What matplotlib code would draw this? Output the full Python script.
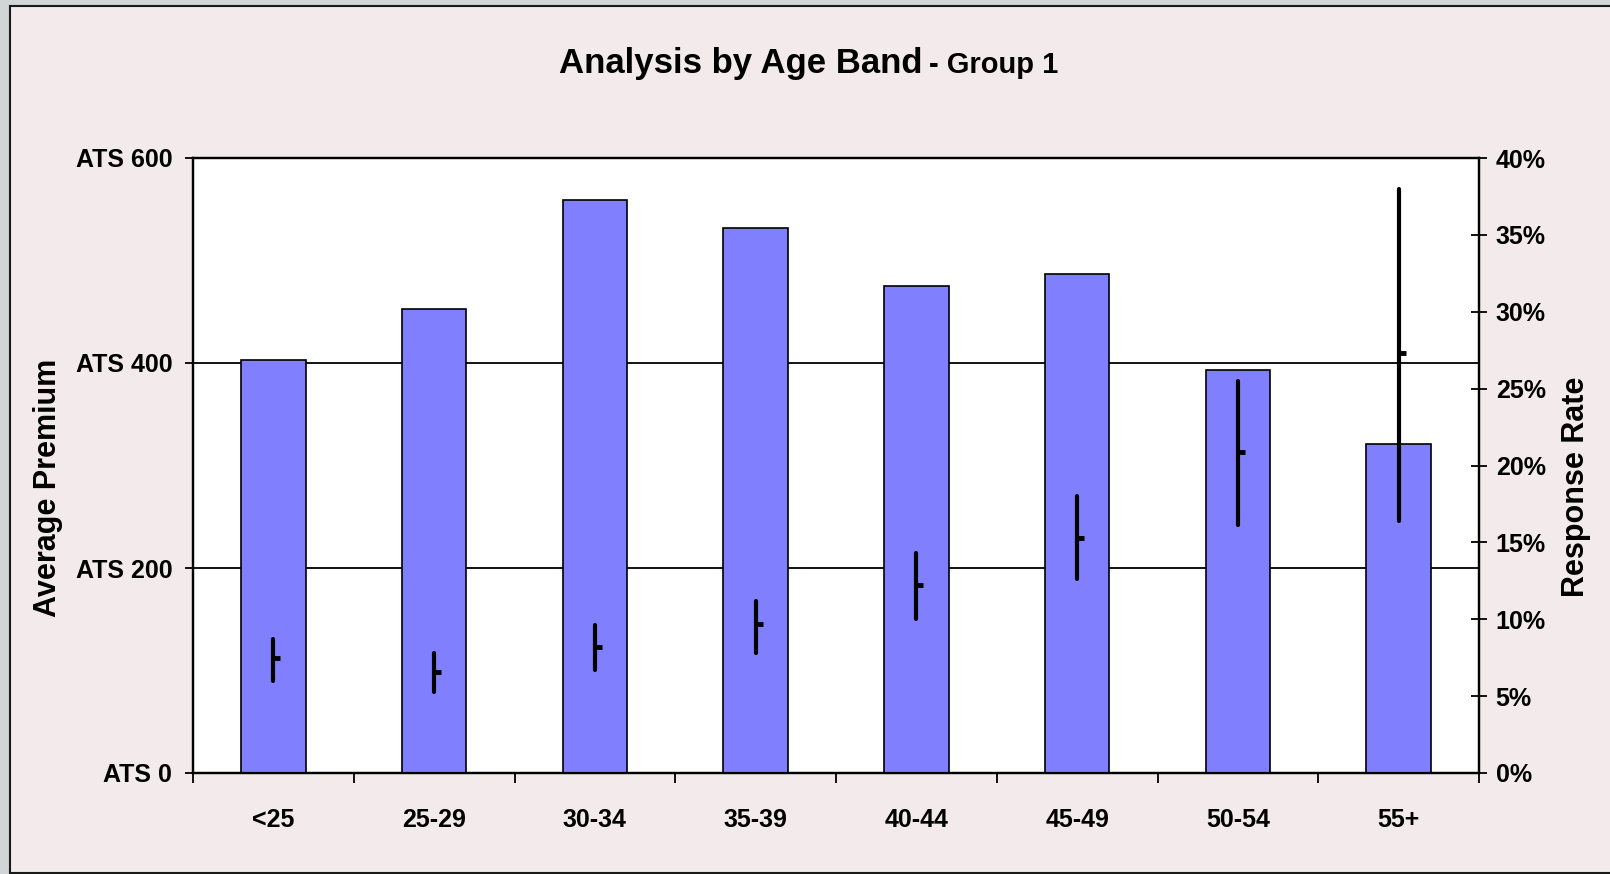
import numpy as np
import matplotlib
matplotlib.use("Agg")
import matplotlib.pyplot as plt
from matplotlib.patches import Rectangle
from matplotlib.ticker import FuncFormatter, FixedLocator

plt.rcParams['font.family'] = ['Liberation Sans', 'DejaVu Sans']
plt.rcParams['font.weight'] = 'bold'

# data
age_bands = ['<25', '25-29', '30-34', '35-39', '40-44', '45-49', '50-54', '55+']
avg_premium = [403, 453, 559, 532, 475, 487, 393, 321]
resp_rate = [7.5, 6.6, 8.2, 9.7, 12.2, 15.3, 20.9, 27.3]
resp_low = [6.0, 5.3, 6.7, 7.8, 10.0, 12.6, 16.1, 16.4]
resp_high = [8.7, 7.8, 9.6, 11.2, 14.3, 18.0, 25.5, 38.0]
premium_ticks = [0, 200, 400, 600]
rate_ticks = [0, 5, 10, 15, 20, 25, 30, 35, 40]

W, H = 1610, 874
fig = plt.figure(figsize=(W / 100, H / 100), dpi=100)
fig.patch.set_facecolor('#d1d5d5')

# pink panel with dark border
fig.patches.append(Rectangle((10 / W, 1 / H), 1.0, (H - 7) / H, transform=fig.transFigure,
                             facecolor='#f3eaeb', edgecolor='#1a1a1a', lw=1.5, zorder=-10))

ax = fig.add_axes([193 / W, 101 / H, 1286 / W, 615 / H])
ax.set_facecolor('white')
x = np.arange(len(age_bands))

ax.bar(x, avg_premium, width=0.4, color='#8080ff', edgecolor='black', linewidth=1.2, zorder=3)
ax.set_xlim(-0.5, len(age_bands) - 0.5)
ax.set_ylim(0, 600)
ax.yaxis.set_major_locator(FixedLocator(premium_ticks))
ax.yaxis.set_major_formatter(FuncFormatter(lambda v, p: f'ATS {int(v)}'))
for v in premium_ticks[1:-1]:
    ax.axhline(v, color='black', lw=1.3, zorder=1)

ax.set_xticks(np.arange(-0.5, len(age_bands)), labels=[''] * (len(age_bands) + 1))
ax.set_xticks(x, labels=age_bands, minor=True)
ax.tick_params(axis='x', which='major', direction='out', length=7, width=1.3)
ax.tick_params(axis='x', which='minor', length=0, pad=25, labelsize=18)
ax.tick_params(axis='y', direction='out', length=6, width=1.3, pad=9, labelsize=18)
for s in ax.spines.values():
    s.set_linewidth(1.6)

ax2 = ax.twinx()
ax2.set_ylim(0, 40)
ax2.yaxis.set_major_locator(FixedLocator(rate_ticks))
ax2.yaxis.set_major_formatter(FuncFormatter(lambda v, p: f'{int(v)}%'))
ax2.tick_params(axis='y', direction='inout', length=12, width=1.3, pad=6, labelsize=18)
ax2.vlines(x, resp_low, resp_high, color='black', lw=3, capstyle='round', zorder=4)
ax2.plot(x, resp_rate, linestyle='none', marker=1, markersize=5, markeredgewidth=3.5,
         color='black', zorder=5)
for s in ax2.spines.values():
    s.set_linewidth(1.6)

# titles and axis labels
fig.text(922 / W, 1 - 73 / H, 'Analysis by Age Band', fontsize=25, fontweight='bold',
         ha='right', va='baseline')
fig.text(929 / W, 1 - 73 / H, '- Group 1', fontsize=21, fontweight='bold',
         ha='left', va='baseline')
fig.text(48 / W, 1 - 488 / H, 'Average Premium', fontsize=22, fontweight='bold',
         rotation=90, ha='center', va='center')
fig.text(1576 / W, 1 - 487 / H, 'Response Rate', fontsize=22, fontweight='bold',
         rotation=90, ha='center', va='center')

fig.savefig('out.png', dpi=100, facecolor=fig.get_facecolor())
